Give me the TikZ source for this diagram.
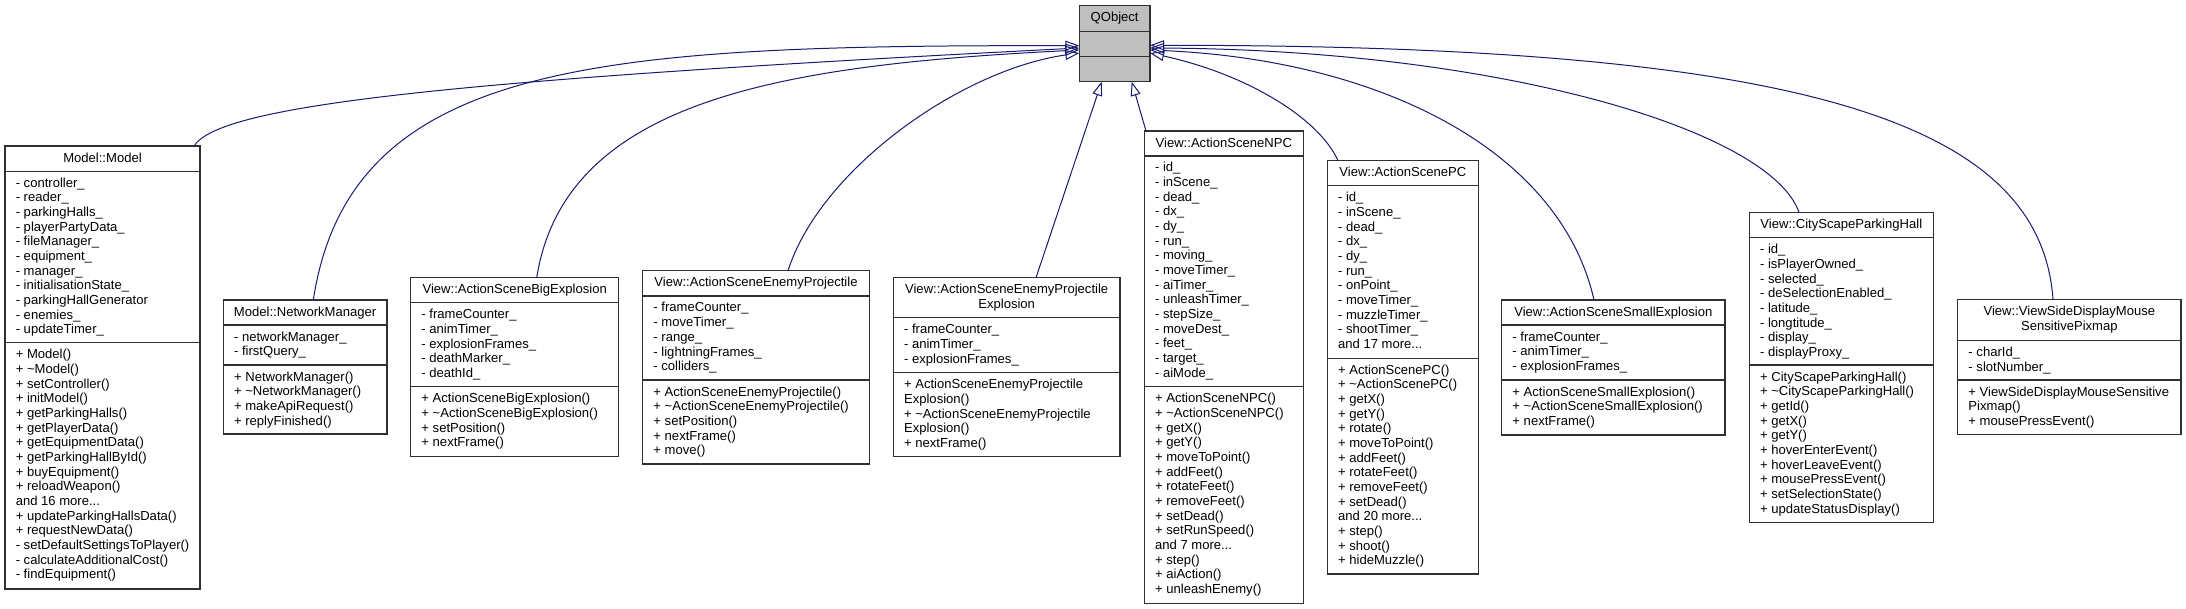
\documentclass[tikz,border=0pt]{standalone}
\usepackage{fontspec}
\setmainfont{Liberation Sans}
\usetikzlibrary{arrows.meta,calc,fit}
\definecolor{edgeblue}{HTML}{191970}
\definecolor{qgray}{HTML}{BFBFBF}
\definecolor{boxline}{HTML}{303030}
\newcommand\ml[1]{\begin{tabular}[t]{@{}l@{}}#1\end{tabular}}
\newcommand\mc[1]{\begin{tabular}[t]{@{}c@{}}#1\end{tabular}}
\newcommand\tildech{\textasciitilde}
\tikzset{
  classbox/.style={draw=boxline, line width=1.1pt, inner sep=0pt, outer sep=0pt},
  classline/.style={draw=boxline, line width=1.1pt},
  titletext/.style={anchor=base, inner sep=0pt, font=\fontsize{9.8}{11}\selectfont},
  membertext/.style={anchor=base west, inner sep=0pt, font=\fontsize{9.8}{11}\selectfont},
  inherit/.style={draw=edgeblue, line width=0.75pt, -{Triangle[open, length=10.5pt, width=7.5pt]}},
}
% name, x1, y1, x2, y2, divider1, divider2, fill
\newcommand\umlbox[8]{%
  \node[classbox, fill=#8, fit={(#2,#3) (#4,#5)}] (#1) {};
  \draw[classline] (#2,#6) -- (#4,#6);
  \draw[classline] (#2,#7) -- (#4,#7);
}
% name, x1, x2, y1, divider1, divider2, title, attributes, methods
\newcommand\umltext[9]{%
  \node[titletext] (#1-t) at ({(#2+#3)/2},#4+16.3) {\mc{#7}};
  \node[membertext] (#1-a) at (#2+10.5,#5+16) {\ml{#8}};
  \node[membertext] (#1-m) at (#2+10.5,#6+16) {\ml{#9}};
}
\begin{document}
\begin{tikzpicture}[x=0.75pt,y=-0.75pt]
\useasboundingbox (0,0) rectangle (2186,609);
\fill[white] (0,0) rectangle (2186,609);

% QObject
\umlbox{qobj}{1079.3}{5.7}{1150}{81.7}{31.7}{56.7}{qgray}
\node[titletext] (qobj-t) at (1114.65,22) {QObject};

% Model::Model
\umlbox{model}{5}{146}{200}{589}{171.3}{342.7}{white}
\umltext{model}{5}{200}{146}{171.3}{342.7}{Model::Model}
{- controller\_\\- reader\_\\- parkingHalls\_\\- playerPartyData\_\\- fileManager\_\\- equipment\_\\- manager\_\\- initialisationState\_\\- parkingHallGenerator\\- enemies\_\\- updateTimer\_}
{+ Model()\\+ \tildech Model()\\+ setController()\\+ initModel()\\+ getParkingHalls()\\+ getPlayerData()\\+ getEquipmentData()\\+ getParkingHallById()\\+ buyEquipment()\\+ reloadWeapon()\\and 16 more...\\+ updateParkingHallsData()\\+ requestNewData()\\- setDefaultSettingsToPlayer()\\- calculateAdditionalCost()\\- findEquipment()}

% Model::NetworkManager
\umlbox{netman}{223.3}{300}{387}{434}{325}{365}{white}
\umltext{netman}{223.3}{387}{300}{325}{365}{Model::NetworkManager}
{- networkManager\_\\- firstQuery\_}
{+ NetworkManager()\\+ \tildech NetworkManager()\\+ makeApiRequest()\\+ replyFinished()}

% View::ActionSceneBigExplosion
\umlbox{bigexp}{410.7}{277.7}{618.7}{456.7}{302.7}{386.7}{white}
\umltext{bigexp}{410.7}{618.7}{277.7}{302.7}{386.7}{View::ActionSceneBigExplosion}
{- frameCounter\_\\- animTimer\_\\- explosionFrames\_\\- deathMarker\_\\- deathId\_}
{+ ActionSceneBigExplosion()\\+ \tildech ActionSceneBigExplosion()\\+ setPosition()\\+ nextFrame()}

% View::ActionSceneEnemyProjectile
\umlbox{enproj}{642.7}{270.7}{869.3}{464}{296}{380}{white}
\umltext{enproj}{642.7}{869.3}{270.7}{296}{380}{View::ActionSceneEnemyProjectile}
{- frameCounter\_\\- moveTimer\_\\- range\_\\- lightningFrames\_\\- colliders\_}
{+ ActionSceneEnemyProjectile()\\+ \tildech ActionSceneEnemyProjectile()\\+ setPosition()\\+ nextFrame()\\+ move()}

% View::ActionSceneEnemyProjectileExplosion
\umlbox{enprojexp}{893.3}{277.7}{1120}{456.7}{317.7}{372.7}{white}
\umltext{enprojexp}{893.3}{1120}{277.7}{317.7}{372.7}{View::ActionSceneEnemyProjectile\\Explosion}
{- frameCounter\_\\- animTimer\_\\- explosionFrames\_}
{+ ActionSceneEnemyProjectile\\Explosion()\\+ \tildech ActionSceneEnemyProjectile\\Explosion()\\+ nextFrame()}

% View::ActionSceneNPC
\umlbox{npc}{1144.3}{131}{1303.3}{603.3}{156}{386.7}{white}
\umltext{npc}{1144.3}{1303.3}{131}{156}{386.7}{View::ActionSceneNPC}
{- id\_\\- inScene\_\\- dead\_\\- dx\_\\- dy\_\\- run\_\\- moving\_\\- moveTimer\_\\- aiTimer\_\\- unleashTimer\_\\- stepSize\_\\- moveDest\_\\- feet\_\\- target\_\\- aiMode\_}
{+ ActionSceneNPC()\\+ \tildech ActionSceneNPC()\\+ getX()\\+ getY()\\+ moveToPoint()\\+ addFeet()\\+ rotateFeet()\\+ removeFeet()\\+ setDead()\\+ setRunSpeed()\\and 7 more...\\+ step()\\+ aiAction()\\+ unleashEnemy()}

% View::ActionScenePC
\umlbox{pc}{1327.3}{160.7}{1478.3}{574}{185.7}{358.3}{white}
\umltext{pc}{1327.3}{1478.3}{160.7}{185.7}{358.3}{View::ActionScenePC}
{- id\_\\- inScene\_\\- dead\_\\- dx\_\\- dy\_\\- run\_\\- onPoint\_\\- moveTimer\_\\- muzzleTimer\_\\- shootTimer\_\\and 17 more...}
{+ ActionScenePC()\\+ \tildech ActionScenePC()\\+ getX()\\+ getY()\\+ rotate()\\+ moveToPoint()\\+ addFeet()\\+ rotateFeet()\\+ removeFeet()\\+ setDead()\\and 20 more...\\+ step()\\+ shoot()\\+ hideMuzzle()}

% View::ActionSceneSmallExplosion
\umlbox{smallexp}{1501.7}{300}{1725}{435}{325}{380}{white}
\umltext{smallexp}{1501.7}{1725}{300}{325}{380}{View::ActionSceneSmallExplosion}
{- frameCounter\_\\- animTimer\_\\- explosionFrames\_}
{+ ActionSceneSmallExplosion()\\+ \tildech ActionSceneSmallExplosion()\\+ nextFrame()}

% View::CityScapeParkingHall
\umlbox{city}{1749.3}{212.3}{1933.3}{522.7}{237.7}{365}{white}
\umltext{city}{1749.3}{1933.3}{212.3}{237.7}{365}{View::CityScapeParkingHall}
{- id\_\\- isPlayerOwned\_\\- selected\_\\- deSelectionEnabled\_\\- latitude\_\\- longtitude\_\\- display\_\\- displayProxy\_}
{+ CityScapeParkingHall()\\+ \tildech CityScapeParkingHall()\\+ getId()\\+ getX()\\+ getY()\\+ hoverEnterEvent()\\+ hoverLeaveEvent()\\+ mousePressEvent()\\+ setSelectionState()\\+ updateStatusDisplay()}

% View::ViewSideDisplayMouseSensitivePixmap
\umlbox{viewside}{1957.7}{299.3}{2181}{434.3}{340.7}{380}{white}
\umltext{viewside}{1957.7}{2181}{299.3}{340.7}{380}{View::ViewSideDisplayMouse\\SensitivePixmap}
{- charId\_\\- slotNumber\_}
{+ ViewSideDisplayMouseSensitive\\Pixmap()\\+ mousePressEvent()}

% inheritance connectors
\draw[inherit] ($(model.north west)+(189,0)$) .. controls (220,105) and (450,80) .. ($(qobj.north west)+(0,42.3)$);
\draw[inherit] ($(netman.north west)+(90,0)$) .. controls (350,60) and (600,45) .. ($(qobj.north west)+(0,40)$);
\draw[inherit] ($(bigexp.north west)+(126,0)$) .. controls (565,100) and (780,65) .. ($(qobj.north west)+(0,44.3)$);
\draw[inherit] ($(enproj.north west)+(145.3,0)$) .. controls (820,170) and (960,70) .. ($(qobj.north west)+(0,47.3)$);
\draw[inherit] ($(enprojexp.north west)+(142.7,0)$) -- ($(qobj.south west)+(22.4,0)$);
\draw[inherit] ($(npc.north west)+(1.7,0)$) -- ($(qobj.south west)+(52.4,0)$);
\draw[inherit] ($(pc.north west)+(10.7,0)$) .. controls (1320,120) and (1250,75) .. ($(qobj.north east)+(0,47.3)$);
\draw[inherit] ($(smallexp.north west)+(92.3,0)$) .. controls (1560,150) and (1380,60) .. ($(qobj.north east)+(0,44.3)$);
\draw[inherit] ($(city.north west)+(49.7,0)$) .. controls (1770,130) and (1500,50) .. ($(qobj.north east)+(0,42.3)$);
\draw[inherit] ($(viewside.north west)+(95.3,0)$) .. controls (2040,120) and (1800,45) .. ($(qobj.north east)+(0,39.6)$);
\end{tikzpicture}
\end{document}
